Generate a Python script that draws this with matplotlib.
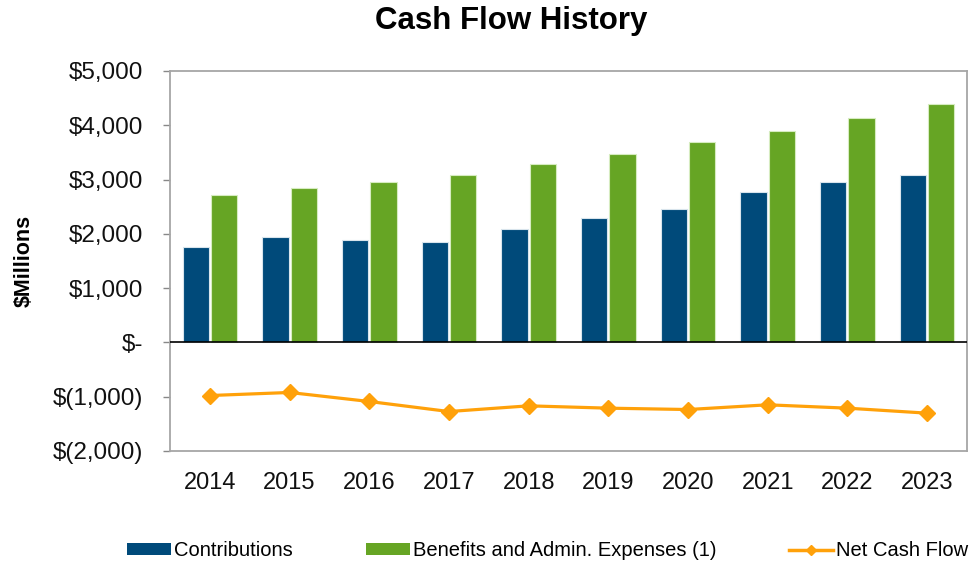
import matplotlib
matplotlib.use("Agg")
import matplotlib.pyplot as plt
import numpy as np
from matplotlib.ticker import FuncFormatter
from matplotlib.lines import Line2D
from matplotlib.patches import Patch

plt.rcParams['font.family'] = ['Liberation Sans', 'DejaVu Sans']

years = ['2014', '2015', '2016', '2017', '2018', '2019', '2020', '2021', '2022', '2023']
contributions = [1753, 1945, 1882, 1852, 2098, 2295, 2454, 2775, 2959, 3088]
benefits = [2707, 2836, 2959, 3088, 3279, 3469, 3697, 3887, 4140, 4398]
net_cash_flow = [-978, -922, -1088, -1273, -1168, -1211, -1236, -1149, -1211, -1303]

c_blue = '#004A7A'
c_green = '#66A524'
c_orange = '#FFA10A'

fig = plt.figure(figsize=(9.71, 5.65), dpi=100)
ax = fig.add_axes([170/971, 1-451/565, (967-170)/971, (451-71)/565])

x = np.arange(len(years))
w = 0.33
ax.bar(x - w/2 - 0.012, contributions, w, color=c_blue, edgecolor='#d8e4ec', linewidth=0.8, zorder=2)
ax.bar(x + w/2 + 0.012, benefits, w, color=c_green, edgecolor='#d6ecc0', linewidth=0.8, zorder=2)
ax.plot(x, net_cash_flow, color=c_orange, lw=2.3, marker='D', ms=8, zorder=3)
ax.axhline(0, color='black', lw=1.2, zorder=4)

ax.set_xlim(-0.5, len(years) - 0.5)
ax.set_ylim(-2000, 5000)
ax.set_yticks(range(-2000, 5001, 1000))

def fmt(v, pos):
    v = int(round(v))
    if v == 0:
        return '$-'
    if v < 0:
        return '$({:,})'.format(-v)
    return '${:,}'.format(v)

ax.yaxis.set_major_formatter(FuncFormatter(fmt))
ax.set_xticks(x)
ax.set_xticklabels(years)
ax.tick_params(axis='x', length=0, pad=15, labelsize=17, colors='#111111')
ax.tick_params(axis='y', length=5, width=1, color='#888888', pad=14, labelsize=17.5, labelcolor='#111111')

for s in ax.spines.values():
    s.set_color('#A6A6A6')
    s.set_linewidth(1.3)

ax.set_ylabel('$Millions', fontsize=15.5, fontweight='bold')
ax.yaxis.set_label_coords(-0.17, 0.5)

fig.text(0.526, 0.962, 'Cash Flow History', ha='center', va='center', fontsize=22.5, fontweight='bold')

handles = [Patch(facecolor=c_blue, edgecolor='none'),
           Patch(facecolor=c_green, edgecolor='none'),
           Line2D([0], [0], color=c_orange, lw=2.5, marker='D', ms=5)]
labels = ['Contributions', 'Benefits and Admin. Expenses (1)', 'Net Cash Flow']
fig.legend(handles, labels, loc='center', bbox_to_anchor=(0.564, 0.025), ncol=3, frameon=False,
           fontsize=14.5, columnspacing=3.6, handlelength=2.2, handletextpad=0.15, handleheight=0.5)

fig.savefig('out.png', dpi=100)
